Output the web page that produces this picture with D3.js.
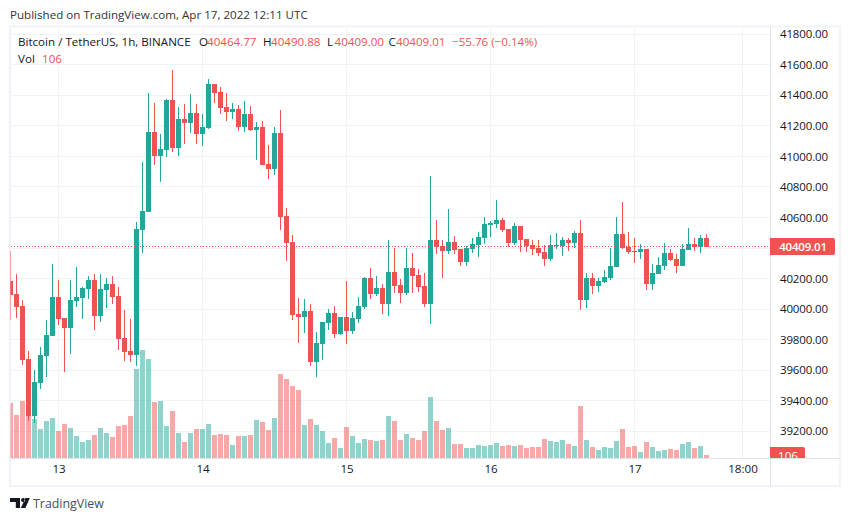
<![CDATA[<!DOCTYPE html>
<html><head><meta charset="utf-8">
<style>
html,body{margin:0;padding:0;background:#fff;overflow:hidden}
svg{display:block}
text{font-family:"Open Sans","Noto Sans",sans-serif;font-size:11.6px}
</style>
<script src="https://cdn.jsdelivr.net/npm/d3@7"></script>
</head><body>
<script>
const opens=[40184,40099,40020,39673,39300,39516,39693,39824,40079,39942,39876,40053,40073,40131,40190,39955,40125,40164,40086,39811,39726,39699,40518,40636,41159,41002,41041,41369,41054,41244,41218,41284,41146,41185,41473,41421,41323,41290,41310,41192,41277,41172,41192,40950,40917,41153,40609,40439,39968,39948,39987,39654,39771,39909,39974,39837,39948,39857,39935,40014,40204,40099,40138,40033,40243,40158,40105,40269,40223,40151,40033,40452,40413,40380,40439,40393,40308,40393,40420,40465,40551,40557,40583,40524,40433,40544,40459,40420,40400,40374,40328,40413,40413,40452,40433,40498,40060,40204,40151,40177,40204,40276,40492,40406,40380,40374,40393,40164,40230,40282,40367,40328,40282,40387,40426,40406,40464.77];
const highs=[40380,40230,40060,39726,39601,39752,39929,40295,40190,39942,40190,40275,40145,40217,40230,40230,40203,40217,40145,39994,39935,40570,40963,41414,41349,41146,41375,41565,41323,41342,41408,41342,41277,41506,41473,41454,41414,41349,41336,41362,41329,41225,41231,41074,41192,41303,40662,40485,40073,40066,40033,39850,39915,40000,40020,39948,40184,39981,40079,40210,40269,40217,40164,40452,40400,40197,40400,40367,40262,40236,40871,40583,40452,40655,40478,40393,40413,40465,40505,40603,40577,40714,40596,40524,40564,40544,40459,40452,40452,40420,40485,40498,40472,40465,40511,40583,40236,40236,40204,40256,40400,40603,40701,40505,40465,40426,40393,40295,40341,40433,40393,40361,40426,40531,40465,40485,40490.88];
const lows=[39929,39942,39634,39267,39254,39477,39555,39824,39896,39588,39706,40014,39935,40066,39863,39915,40007,40033,39732,39660,39654,39627,40367,40636,40943,40832,40996,41028,41002,41081,41153,41081,41068,41179,41349,41277,41231,41244,41166,41159,41166,40976,40943,40851,40878,40518,40315,39929,39778,39843,39627,39555,39667,39863,39811,39830,39771,39837,39909,40001,40066,40086,39968,39955,40105,40040,40092,40105,40112,40014,39902,40361,40204,40361,40361,40282,40282,40367,40341,40426,40472,40531,40505,40406,40420,40374,40374,40354,40348,40282,40315,40393,40348,40380,40400,39994,40007,40099,40112,40171,40190,40276,40393,40361,40302,40328,40125,40125,40230,40256,40315,40236,40282,40387,40380,40367,40409];
const closes=[40092,40014,39667,39300,39523,39699,39830,40079,39935,39876,40060,40079,40138,40190,39955,40131,40164,40079,39804,39719,39699,40524,40642,41159,41002,41048,41369,41054,41244,41218,41284,41146,41192,41473,41414,41316,41290,41310,41192,41277,41172,41192,40943,40917,41153,40603,40433,39961,39948,39987,39654,39778,39915,39974,39837,39948,39856,39942,40020,40204,40099,40138,40033,40243,40151,40105,40269,40217,40145,40033,40452,40406,40380,40439,40387,40308,40400,40426,40472,40557,40564,40583,40518,40433,40544,40452,40413,40393,40367,40328,40420,40420,40452,40433,40498,40060,40204,40151,40184,40210,40282,40492,40400,40374,40374,40393,40164,40236,40289,40367,40321,40282,40393,40426,40406,40465,40409.01];
const volumes=[1925,1505,1995,1470,1365,1015,1295,1400,945,1190,1050,770,560,630,805,1050,875,735,1120,1155,1470,3115,3780,3465,1960,1995,1120,1645,875,560,875,1015,1015,1190,805,840,805,455,770,770,805,1330,1260,980,1400,2940,2765,2520,2380,1155,1365,1155,945,525,700,350,1085,770,525,665,630,595,630,1470,1295,630,840,700,630,945,2135,1295,980,1050,490,490,350,350,455,420,455,525,420,455,420,455,350,385,385,665,595,560,630,490,420,1820,630,385,280,385,350,595,1015,385,420,210,560,385,245,280,315,280,490,560,350,420,106];
const priceTicks=[41800,41600,41400,41200,41000,40800,40600,40400,40200,40000,39800,39600,39400,39200];
const timeTickBars=[8,32,56,80,104,122];
const timeTickLabels=["13","14","15","16","17","18:00"];
const publishedText="Published on TradingView.com, Apr 17, 2022 12:11 UTC";
const symbolText="Bitcoin / TetherUS, 1h, BINANCE";
const ohlcLabels=["O","H","L","C"];
const ohlcValues=["40464.77","40490.88","40409.00","40409.01"];
const changeText="\u221255.76 (\u22120.14%)";
const volumeLabel="Vol";
const lastPrice=40409.01, lastVolume=106;

const GREEN="#26a69a",RED="#ef5350",GRID="#f1f2f5",FRAME="#f0f3fa",BORDER="#e0e3eb",TEXT="#131722";
const svg=d3.select("body").append("svg").attr("width",850).attr("height",521);
const L=10.5,R=770,T=27,B=458;
const x=d3.scaleLinear().domain([0,116]).range([10.5,706.5]);
const y=d3.scaleLinear().domain([41600,39200]).range([64.7,431.3]);
const vy=d3.scaleLinear().domain([0,3780]).range([B,B-108]);

svg.append("rect").attr("x",10).attr("y",26.5).attr("width",830).attr("height",459.5).attr("fill","#fff").attr("stroke",FRAME).attr("stroke-width",2);
const defs=svg.append("defs");
defs.append("clipPath").attr("id","plot").append("rect").attr("x",L).attr("y",T).attr("width",R-L).attr("height",B-T);
defs.append("clipPath").attr("id","axisclip").append("rect").attr("x",R).attr("y",T).attr("width",70).attr("height",B-T);

// grid
const grid=svg.append("g");
grid.selectAll("line.h").data(priceTicks).join("line").attr("class","h")
  .attr("x1",L).attr("x2",R).attr("y1",d=>Math.floor(y(d))+.5).attr("y2",d=>Math.floor(y(d))+.5).attr("stroke",GRID);
grid.selectAll("line.v").data(timeTickBars).join("line").attr("class","v")
  .attr("y1",T).attr("y2",B).attr("x1",d=>x(d)).attr("x2",d=>x(d)).attr("stroke",GRID);

const plot=svg.append("g").attr("clip-path","url(#plot)");
const idx=d3.range(opens.length);
const col=i=>closes[i]>=opens[i]?GREEN:RED;
// volume
plot.selectAll("rect.vol").data(idx).join("rect").attr("class","vol")
  .attr("x",i=>x(i)-2.5).attr("width",5)
  .attr("y",i=>Math.round(vy(volumes[i]))).attr("height",i=>B-Math.round(vy(volumes[i])))
  .attr("fill",col).attr("fill-opacity",.5);
// price line
svg.append("line").attr("x1",11).attr("x2",R).attr("y1",Math.floor(y(lastPrice))+.5).attr("y2",Math.floor(y(lastPrice))+.5)
  .attr("stroke",RED).attr("stroke-dasharray","1 2");
// candles
plot.selectAll("rect.wick").data(idx).join("rect").attr("class","wick")
  .attr("x",i=>x(i)-.5).attr("width",1)
  .attr("y",i=>Math.round(y(highs[i]))).attr("height",i=>Math.max(1,Math.round(y(lows[i]))-Math.round(y(highs[i]))))
  .attr("fill",col);
plot.selectAll("rect.body").data(idx).join("rect").attr("class","body")
  .attr("x",i=>x(i)-2.5).attr("width",5)
  .attr("y",i=>Math.round(y(Math.max(opens[i],closes[i]))))
  .attr("height",i=>Math.max(1,Math.round(y(Math.min(opens[i],closes[i])))-Math.round(y(Math.max(opens[i],closes[i])))))
  .attr("fill",col);

// axes (the tick under the last-price tag carries no label, as on the original)
const fmt=d3.format(".2f");
const yAxis=d3.axisRight(y).tickValues(priceTicks).tickFormat(d=>Math.abs(d-lastPrice)<30?"":fmt(d)).tickSize(0).tickPadding(10);
const gy=svg.append("g").attr("transform",`translate(${R},0)`).call(yAxis);
gy.select(".domain").remove();
gy.selectAll("text").attr("fill",TEXT).style("font-size","11.5px").style("letter-spacing","-0.15px");
const xAxis=d3.axisBottom(x).tickValues(timeTickBars).tickFormat((d,i)=>timeTickLabels[i]).tickSize(0).tickPadding(0);
const gx=svg.append("g").attr("transform",`translate(0,${B+7})`).call(xAxis);
gx.select(".domain").remove();
gx.selectAll("text").attr("fill",TEXT).style("font-size","11.6px");
svg.append("line").attr("x1",R+.5).attr("x2",R+.5).attr("y1",T).attr("y2",486).attr("stroke",BORDER);
svg.append("line").attr("x1",L).attr("x2",840).attr("y1",458.5).attr("y2",458.5).attr("stroke",BORDER);

// price tags
const tagY=Math.round(y(lastPrice))-9;
const tags=svg.append("g").attr("clip-path","url(#axisclip)");
tags.append("path").attr("d",`M${R} ${tagY}h63a2 2 0 0 1 2 2v13a2 2 0 0 1-2 2h-63z`).attr("fill",RED);
tags.append("text").attr("x",R+33).attr("y",tagY+13).attr("text-anchor","middle").attr("fill","#fff").attr("font-weight",600).style("font-size","11.5px").style("letter-spacing","-0.2px").text(fmt(lastPrice));
tags.append("path").attr("d",`M${R} ${B-11}h33a2 2 0 0 1 2 2v12h-35z`).attr("fill",RED);
tags.append("text").attr("x",R+18).attr("y",B+2).attr("text-anchor","middle").attr("fill","#fff").text(lastVolume);

// legend
const t=(xp,yp,s,c)=>svg.append("text").attr("x",xp).attr("y",yp).attr("fill",c).text(s);
t(10,19,publishedText,"#333");
t(18,46,symbolText,TEXT);
[[199,207],[263,271],[327,334.5],[388.5,396]].forEach((p,i)=>{t(p[0],46,ohlcLabels[i],TEXT);t(p[1],46,ohlcValues[i],RED);});
t(452,46,changeText,RED);
t(18,63,volumeLabel,TEXT);
t(42,63,String(lastVolume),RED);

// logo
svg.append("path").attr("fill","#131722").attr("d","M10 498h10v10h-4.2v-6H10zM21 500a2.1 2.1 0 1 0 4.2 0a2.1 2.1 0 1 0-4.2 0zM25.5 498h4.3l-4.4 10h-4.6z");
svg.append("text").attr("x",33).attr("y",507.5).attr("fill","#4a4e5c").style("font-size","12.4px").text("TradingView");
</script>
</body></html>]]>
